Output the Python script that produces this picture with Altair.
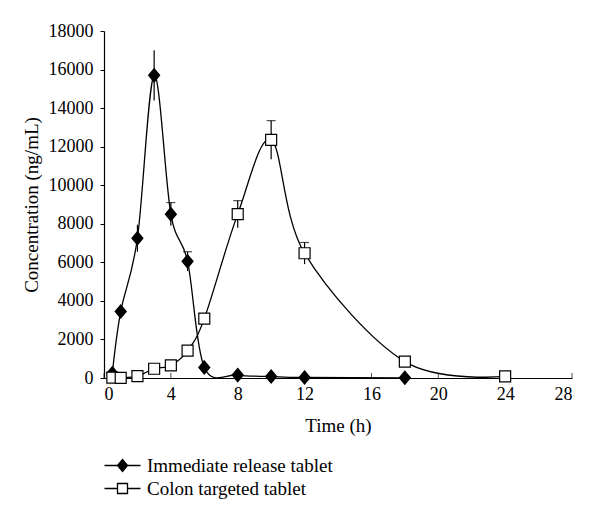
import altair as alt
import pandas as pd

series_names = ["Immediate release tablet", "Colon targeted tablet"]

time_ir = [0.5, 1, 2, 3, 4, 5, 6, 8, 10, 12, 18]
conc_ir = [250, 3450, 7250, 15700, 8500, 6050, 550, 150, 80, 30, 10]
sd_ir = [0, 0, 700, 1300, 600, 500, 0, 0, 0, 0, 0]
cap_ir = [0, 0, 0, 0, 1, 1, 0, 0, 0, 0, 0]

time_ct = [0.5, 1, 2, 3, 4, 5, 6, 8, 10, 12, 18, 24]
conc_ct = [20, 10, 100, 480, 650, 1420, 3080, 8500, 12350, 6470, 850, 80]
sd_ct = [0, 0, 0, 0, 0, 0, 0, 700, 1000, 560, 0, 0]
cap_ct = [0, 0, 0, 0, 0, 0, 0, 1, 1, 1, 0, 0]

x_ticks = [0, 4, 8, 12, 16, 20, 24, 28]
y_ticks = [0, 2000, 4000, 6000, 8000, 10000, 12000, 14000, 16000, 18000]

rows = []
for t, c, s, k in zip(time_ir, conc_ir, sd_ir, cap_ir):
    rows.append({"time": t, "conc": c, "lo": c - s, "hi": c + s, "sd": s, "cap": k, "series": series_names[0]})
for t, c, s, k in zip(time_ct, conc_ct, sd_ct, cap_ct):
    rows.append({"time": t, "conc": c, "lo": c - s, "hi": c + s, "sd": s, "cap": k, "series": series_names[1]})
df = pd.DataFrame(rows)
ticks_df = pd.DataFrame({"t": x_ticks})

FONT = "Liberation Serif"
W, H = 468, 347

xscale = alt.Scale(domain=[0, 28], nice=False)
yscale = alt.Scale(domain=[0, 18000], nice=False)

x_axis = alt.Axis(title="Time (h)", values=x_ticks, ticks=False, labelPadding=7,
                  titlePadding=13, grid=False, labelOverlap=False)
y_axis = alt.Axis(title="Concentration (ng/mL)", values=y_ticks, format="d",
                  tickSize=4, labelPadding=7, titlePadding=7, grid=False,
                  labelOverlap=False)


def X(field):
    return alt.X(field, scale=xscale, axis=x_axis, title="Time (h)")


def Y(field):
    return alt.Y(field, scale=yscale, axis=y_axis, title="Concentration (ng/mL)")


base = alt.Chart(df)

lines = base.mark_line(interpolate="cardinal", color="black", strokeWidth=1.3).encode(
    x=X("time:Q"), y=Y("conc:Q"), detail="series:N"
)

err = base.transform_filter("datum.sd > 0").mark_rule(color="black", strokeWidth=1.2).encode(
    x=X("time:Q"), y=Y("lo:Q"), y2="hi:Q"
)
caps = base.transform_filter("datum.cap > 0").mark_tick(
    orient="horizontal", color="black", size=9, thickness=1.2
).encode(x=X("time:Q"), y=Y("hi:Q"))

plot_shapes = ["M0,-1.2L1,0L0,1.2L-1,0Z", "M-1,-1L1,-1L1,1L-1,1Z"]
legend_shapes = [
    "M-3.6,0L3.6,0M0,-1.2L1,0L0,1.2L-1,0Z",
    "M-3.6,0L-1,0M1,0L3.6,0M-1,-1L1,-1L1,1L-1,1Z",
]
fills = ["black", "white"]
strokes = ["black", "black"]

points = base.mark_point(filled=True, stroke="black", strokeWidth=1.2, size=121, opacity=1).encode(
    x=X("time:Q"), y=Y("conc:Q"),
    shape=alt.Shape("series:N", scale=alt.Scale(domain=series_names, range=plot_shapes), legend=None),
    fill=alt.Fill("series:N", scale=alt.Scale(domain=series_names, range=fills), legend=None),
)

legend_cfg = alt.Legend(
    title=None, orient="none", legendX=9, legendY=425, symbolSize=100,
    labelFont=FONT, labelFontSize=19, labelColor="black", labelOffset=15,
    labelLimit=0, rowPadding=3, symbolStrokeWidth=1.3, padding=0,
)
legend_layer = base.transform_filter("datum.time < 0").mark_point(
    filled=True, strokeWidth=1.3, opacity=1
).encode(
    x=X("time:Q"), y=Y("conc:Q"),
    shape=alt.Shape("series:N", scale=alt.Scale(domain=series_names, range=legend_shapes), legend=legend_cfg),
    fill=alt.Fill("series:N", scale=alt.Scale(domain=series_names, range=fills), legend=legend_cfg),
    stroke=alt.Stroke("series:N", scale=alt.Scale(domain=series_names, range=strokes), legend=legend_cfg),
)

xticks = alt.Chart(ticks_df).mark_tick(orient="vertical", color="black", size=5, thickness=1, yOffset=-2.5).encode(
    x=X("t:Q"), y=alt.value(H)
)

chart = alt.layer(lines, err, caps, xticks, points, legend_layer).resolve_scale(
    shape="independent", fill="independent", stroke="independent"
).properties(
    width=W, height=H, padding={"left": 14, "top": 14, "right": 5, "bottom": 5}
).configure_view(stroke=None).configure_axis(
    labelFont=FONT, titleFont=FONT, labelFontSize=18, titleFontSize=19,
    titleFontWeight="normal", labelColor="black", titleColor="black",
    domainColor="black", tickColor="black", domainWidth=1.2,
).configure_legend(labelFont=FONT)

chart.save("out.html", embed_options={"renderer": "svg", "actions": False})
